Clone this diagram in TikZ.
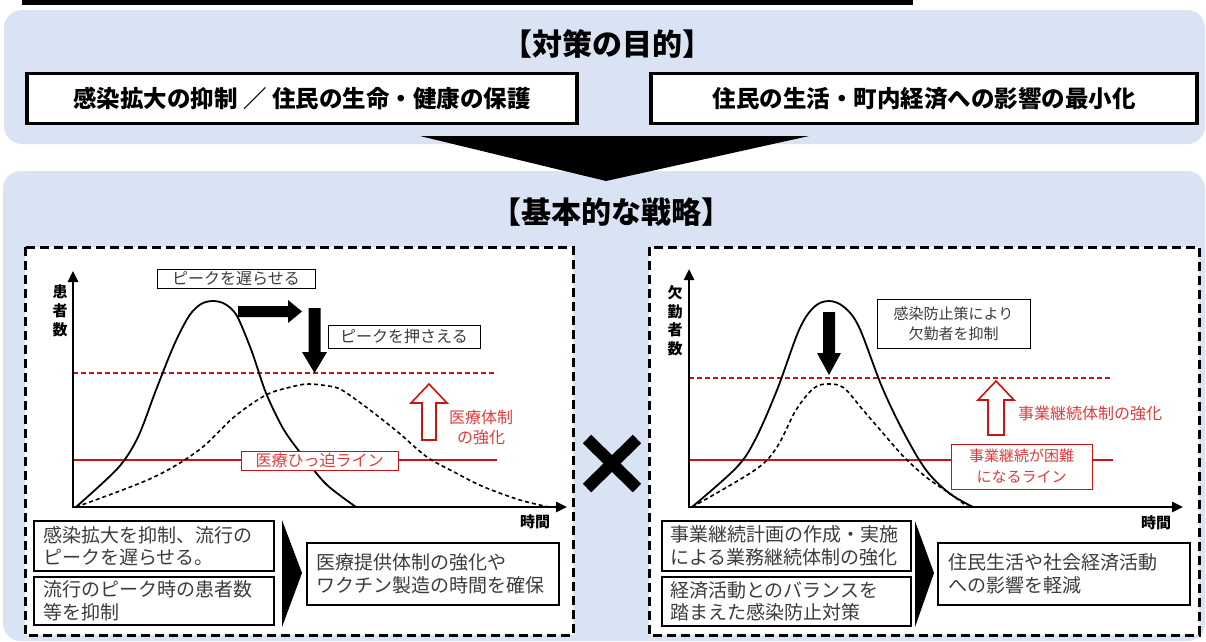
\documentclass[tikz,border=0pt]{standalone}
\usepackage{fontspec}
\setmainfont{Noto Sans CJK JP}
\usetikzlibrary{arrows.meta}
\definecolor{pbg}{RGB}{218,227,243}
\definecolor{lred}{RGB}{200,20,20}
\definecolor{tred}{RGB}{222,60,60}
\definecolor{tgray}{RGB}{60,60,60}
\tikzset{
  panel/.style={fill=pbg, rounded corners=18pt},
  ttl/.style={font=\bfseries\fontsize{30}{34}\selectfont, inner sep=0pt},
  goal/.style={draw=black, line width=3.5pt, fill=white, inner sep=0pt,
    font=\bfseries\fontsize{23.5}{27}\selectfont},
  dashbox/.style={draw=black, line width=3pt, dash pattern=on 9pt off 5pt, fill=white},
  axis/.style={line width=2.5pt, line join=miter, {Triangle[length=11pt,width=10pt]}-{Triangle[length=11pt,width=10pt]}},
  curve/.style={line width=1.8pt, line join=round},
  dcurve/.style={line width=1.6pt, dash pattern=on 4pt off 3pt},
  redsolid/.style={draw=lred, line width=1.8pt},
  reddash/.style={draw=lred, line width=1.6pt, dash pattern=on 5pt off 3pt},
  redarrow/.style={draw=lred, line width=1.6pt, fill=white, line join=miter},
  note/.style={draw=black, line width=1pt, fill=white, text=tgray, inner sep=0pt,
    font=\fontsize{16}{20}\selectfont, align=center},
  rnote/.style={draw=lred, line width=1pt, fill=white, text=tred, inner sep=0pt,
    font=\fontsize{16}{20}\selectfont, align=center},
  rtext/.style={text=tred, inner sep=0pt, font=\fontsize{16}{20}\selectfont, align=center},
  axl/.style={inner sep=0pt, font=\bfseries\fontsize{15}{19}\selectfont, align=center},
  bbox/.style={draw=black, line width=1.2pt, fill=white, text=tgray, inner ysep=0pt,
    font=\fontsize{19}{22.5}\selectfont, align=left},
}
\begin{document}
\begin{tikzpicture}[x=1pt,y=-1pt]
\useasboundingbox (0,0) rectangle (1206,641);
\fill[white] (0,0) rectangle (1206,641);
% top black bar
\fill[black] (22,-1) rectangle (913,5);
% panels
\fill[panel] (4,10) rectangle (1205,144);
\fill[panel] (3,171) rectangle (1205,641);
% titles
\node[ttl] (t1) at (607,44) {【対策の目的】};
\node[ttl] (t2) at (611,212) {【基本的な戦略】};
% goal boxes
\node[goal, minimum width=550pt, minimum height=50pt] (g1) at (302,98.5) {感染拡大の抑制 ／ 住民の生命・健康の保護};
\node[goal, minimum width=546pt, minimum height=50pt] (g2) at (924,98.5) {住民の生活・町内経済への影響の最小化};
% big triangle
\fill[black] (420,136) -- (809,136) -- (606,181) -- cycle;
% dashed frames
\draw[dashbox] (25,247) rectangle (573,635);
\draw[dashbox] (649,247) rectangle (1199,635);
% multiplication mark
\draw[line width=12pt] (587,439) -- (637,488);
\draw[line width=12pt] (587,488) -- (637,439);

% ================= LEFT CHART =================
\coordinate (Lo) at (73,507);
\coordinate (Ly) at (73,271);
\coordinate (Lx) at (567,507);
\coordinate (Lrd1) at (73,373); \coordinate (Lrd2) at (497,373);
\coordinate (Lrs1) at (73,460); \coordinate (Lrs2) at (497,460);
\draw[reddash] (Lrd1) -- (Lrd2);
\draw[redsolid] (Lrs1) -- (Lrs2);
\draw[curve] plot[smooth, tension=0.5] coordinates {(76,507) (118,468) (138,437) (156,390) (174,345) (189,316) (201,304) (213,301) (225,304) (237,316) (252,352) (266,393) (284,430) (306,460) (327,485) (356,507)};
\draw[dcurve] plot[smooth, tension=0.55] coordinates {(76,507) (152,478) (199,450) (234,417) (266,395) (291,387) (309,384) (334,387) (345,392) (370,410) (399,433) (427,457) (456,473) (484,487) (520,500) (549,507)};
\draw[axis] (Ly) -- (Lo) -- (Lx);
\node[axl] (Lyl) at (60,311) {患\\者\\数};
\node[axl] (Lxl) at (535,522) {時間};
% notes
\node[note, minimum width=158pt, minimum height=19pt] (Ln1) at (236,278.5) {ピークを遅らせる};
\node[note, minimum width=152pt, minimum height=23pt] (Ln2) at (404,336.5) {ピークを押さえる};
\node[rnote, minimum width=157pt, minimum height=19pt] (Ln3) at (319.5,460.5) {医療ひっ迫ライン};
\node[rtext] (Ln4) at (481,427) {医療体制\\の強化};
% black arrows
\fill[black] (238,306) -- (288,306) -- (288,300) -- (302,311.5) -- (288,323) -- (288,317) -- (238,317) -- cycle;
\fill[black] (308.5,308) -- (320.5,308) -- (320.5,352) -- (327,352) -- (314.5,373) -- (302,352) -- (308.5,352) -- cycle;
% red hollow arrow
\draw[redarrow] (422,440) -- (422,403) -- (411,403) -- (429,384) -- (447,403) -- (436,403) -- (436,440) -- cycle;
% bottom boxes
\node[bbox, text width=222pt, inner xsep=9pt, minimum height=50pt] (Lb1) at (154,546) {感染拡大を抑制、流行の\\ピークを遅らせる。};
\node[bbox, text width=222pt, inner xsep=9pt, minimum height=48pt] (Lb2) at (154,601) {流行のピーク時の患者数\\等を抑制};
\fill[black] (282,520) -- (302,573) -- (282,627) -- cycle;
\node[bbox, text width=234pt, inner xsep=9pt, minimum height=62pt] (Lb3) at (433,574) {医療提供体制の強化や\\ワクチン製造の時間を確保};

% ================= RIGHT CHART =================
\coordinate (Ro) at (689,507);
\coordinate (Ry) at (689,269);
\coordinate (Rx) at (1183,507);
\coordinate (Rrd1) at (689,378); \coordinate (Rrd2) at (1113,378);
\coordinate (Rrs1) at (689,460); \coordinate (Rrs2) at (1113,460);
\draw[reddash] (Rrd1) -- (Rrd2);
\draw[redsolid] (Rrs1) -- (Rrs2);
\draw[curve] plot[smooth, tension=0.55] coordinates {(692,507) (736,468) (755,440) (777,390) (799,330) (814,307) (829,301) (844,307) (859,327) (882,387) (904,433) (926,470) (949,493) (973,507)};
\draw[dcurve] plot[smooth, tension=0.55] coordinates {(692,507) (755,470) (777,447) (796,410) (814,388) (829,384) (844,388) (863,410) (882,432) (904,457) (926,477) (949,493) (968,507)};
\draw[axis] (Ry) -- (Ro) -- (Rx);
\node[axl, font=\bfseries\fontsize{15}{18.5}\selectfont] (Ryl) at (675,320.5) {欠\\勤\\者\\数};
\node[axl] (Rxl) at (1156,523) {時間};
% notes
\node[note, minimum width=153pt, minimum height=49pt, font=\fontsize{15}{20}\selectfont] (Rn1) at (953.5,323.5) {感染防止策により\\欠勤者を抑制};
\node[rnote, minimum width=141pt, minimum height=45pt, font=\fontsize{15}{21}\selectfont] (Rn2) at (1021.5,466.5) {事業継続が困難\\になるライン};
\node[rtext] (Rn3) at (1090,413) {事業継続体制の強化};
% black arrow
\fill[black] (823,312) -- (835,312) -- (835,353) -- (841,353) -- (829,375) -- (817,353) -- (823,353) -- cycle;
% red hollow arrow
\draw[redarrow] (988,435) -- (988,400) -- (978,400) -- (996,381) -- (1014,400) -- (1004,400) -- (1004,435) -- cycle;
% bottom boxes
\node[bbox, text width=233pt, inner xsep=8pt, minimum height=50pt] (Rb1) at (786.5,546) {事業継続計画の作成・実施\\による業務継続体制の強化};
\node[bbox, text width=233pt, inner xsep=8pt, minimum height=49pt] (Rb2) at (786.5,601.5) {経済活動とのバランスを\\踏まえた感染防止対策};
\fill[black] (915,521) -- (934,573) -- (915,627) -- cycle;
\node[bbox, text width=232pt, inner xsep=10pt, minimum height=62pt] (Rb3) at (1064,574) {住民生活や社会経済活動\\への影響を軽減};
\end{tikzpicture}
\end{document}
